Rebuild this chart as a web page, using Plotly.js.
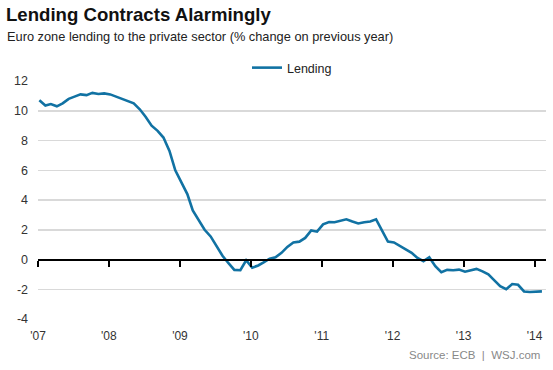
<!DOCTYPE html>
<html>
<head>
<meta charset="utf-8">
<script src="https://cdn.plot.ly/plotly-3.0.1.min.js"></script>
<style>
html,body{margin:0;padding:0;background:#fff;}
#chart{width:553px;height:370px;}
</style>
</head>
<body>
<div id="chart"></div>
<script>
// Monthly data: Jan 2007 .. Feb 2014 (86 points)
const startYear = 2007;
const lending = [
  10.7, 10.35, 10.45, 10.3, 10.5, 10.8, 10.95, 11.1, 11.05, 11.2, 11.13, 11.17,   // 2007
  11.1, 10.95, 10.8, 10.65, 10.5, 10.1, 9.6, 9.0, 8.65, 8.2, 7.3, 6.0,            // 2008
  5.2, 4.4, 3.3, 2.6, 2.0, 1.55, 0.9, 0.25, -0.25, -0.7, -0.72, -0.05,            // 2009
  -0.55, -0.4, -0.2, 0.05, 0.15, 0.45, 0.85, 1.15, 1.2, 1.45, 1.95, 1.87,         // 2010
  2.36, 2.52, 2.5, 2.6, 2.7, 2.55, 2.42, 2.5, 2.55, 2.7, 1.9, 1.2,                // 2011
  1.15, 0.9, 0.7, 0.45, 0.1, -0.11, 0.15, -0.45, -0.85, -0.7, -0.72, -0.68,       // 2012
  -0.82, -0.74, -0.63, -0.8, -1.0, -1.4, -1.8, -2.0, -1.65, -1.7, -2.15, -2.18,   // 2013
  -2.15, -2.14                                                                    // 2014
];
const yearTicks = ['2007-01-01','2008-01-01','2009-01-01','2010-01-01','2011-01-01','2012-01-01','2013-01-01','2014-01-01'];
const yearLabels = ["'07","'08","'09","'10","'11","'12","'13","'14"];
const yTicks = [-4, -2, 0, 2, 4, 6, 8, 10, 12];
const yLabels = ['-4', '-2', '0', '2', '4', '6', '8', '10', '12'];
const seriesName = 'Lending';

const dates = lending.map((v, i) => {
  const y = startYear + Math.floor(i / 12);
  const m = (i % 12) + 1;
  return y + '-' + String(m).padStart(2, '0') + '-08';
});

const W = 553, H = 370;
const M = {l: 38, r: 7, t: 81, b: 51};
const pw = W - M.l - M.r, ph = H - M.t - M.b;
const px = x => (x - M.l) / pw;
const py = y => (H - M.b - y) / ph;
const yMin = -4, yMax = 12;

const font = 'Liberation Sans, Arial, sans-serif';

const traces = [{
  x: dates, y: lending, name: seriesName, type: 'scatter', mode: 'lines',
  line: {color: '#1172a3', width: 2.6}, xaxis: 'x', yaxis: 'y'
}];

const layout = {
  width: W, height: H,
  margin: M,
  paper_bgcolor: '#fff', plot_bgcolor: '#fff',
  font: {family: font, color: '#333', size: 12},
  title: {
    text: '<b>Lending Contracts Alarmingly</b>',
    font: {family: font, size: 18.6, color: '#111'},
    x: 6 / W, xanchor: 'left', xref: 'container',
    y: 1 - 8 / H, yanchor: 'top', yref: 'container'
  },
  showlegend: true,
  legend: {
    orientation: 'h', x: 0.5, xanchor: 'center', y: py(68), yanchor: 'middle',
    font: {family: font, size: 12.5, color: '#222'}, bgcolor: 'rgba(0,0,0,0)'
  },
  xaxis: {
    type: 'date', range: ['2007-01-01', '2014-03-01'],
    tickvals: yearTicks, ticktext: yearLabels,
    showgrid: false, zeroline: false, showline: false, ticks: '',
    ticklabelstandoff: 8,
    tickfont: {family: font, size: 12, color: '#333'}
  },
  xaxis2: {
    type: 'date', range: ['2007-01-01', '2014-03-01'], overlaying: 'x',
    anchor: 'free', position: (0 - yMin) / (yMax - yMin), side: 'bottom',
    tickvals: yearTicks, showticklabels: false,
    ticks: 'outside', ticklen: 6, tickwidth: 2, tickcolor: '#000',
    showline: true, linecolor: '#000', linewidth: 2,
    showgrid: false, zeroline: false
  },
  yaxis: {
    range: [yMin, yMax], tickvals: yTicks, ticktext: yLabels,
    showgrid: true, gridcolor: '#d9d9d9', gridwidth: 1.5,
    zeroline: false, showline: false, ticks: '',
    ticklabelstandoff: 9,
    tickfont: {family: font, size: 12.5, color: '#333'}
  },
  annotations: [
    {
      text: 'Euro zone lending to the private sector (% change on previous year)',
      xref: 'paper', yref: 'paper', x: px(5), y: py(36), xanchor: 'left', yanchor: 'middle',
      showarrow: false, font: {family: font, size: 12.8, color: '#222'}
    },
    {
      text: 'Source: ECB  |  WSJ.com',
      xref: 'paper', yref: 'paper', x: px(542), y: py(355), xanchor: 'right', yanchor: 'middle',
      showarrow: false, font: {family: font, size: 11.5, color: '#888'}
    }
  ]
};

// empty trace so that the tick axis at zero is drawn
traces.push({x: [], y: [], xaxis: 'x2', yaxis: 'y', showlegend: false, hoverinfo: 'skip', type: 'scatter'});

Plotly.newPlot('chart', traces, layout, {staticPlot: true, displayModeBar: false});
</script>
</body>
</html>
